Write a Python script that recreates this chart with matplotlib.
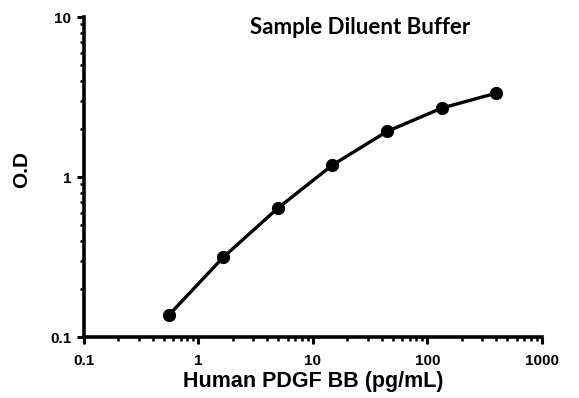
import matplotlib

matplotlib.use("Agg")

import matplotlib.pyplot as plt
from matplotlib.ticker import LogLocator, NullFormatter, FixedFormatter, FixedLocator

# standard curve, 3-fold dilutions
conc = [0.55, 1.65, 4.94, 14.8, 44.4, 133.3, 400.0]
od = [0.137, 0.316, 0.64, 1.19, 1.93, 2.70, 3.35]

x_ticks = [0.1, 1, 10, 100, 1000]
x_tick_labels = ["0.1", "1", "10", "100", "1000"]
y_ticks = [0.1, 1, 10]
y_tick_labels = ["0.1", "1", "10"]

title = "Sample Diluent Buffer"
x_label = "Human PDGF BB (pg/mL)"
y_label = "O.D"

plt.rcParams["font.family"] = ["Liberation Sans", "DejaVu Sans"]

fig = plt.figure(figsize=(5.79, 3.98), dpi=100)
ax = fig.add_axes([0.145, 0.153, 0.791, 0.804])

ax.plot(conc, od, color="black", linewidth=2.4, marker="o", markersize=8.5,
        solid_joinstyle="round", solid_capstyle="round", zorder=3, clip_on=False)

ax.set_xscale("log")
ax.set_yscale("log")
ax.set_xlim(0.1, 1000)
ax.set_ylim(0.1, 10)

ax.xaxis.set_major_locator(FixedLocator(x_ticks))
ax.xaxis.set_major_formatter(FixedFormatter(x_tick_labels))
ax.yaxis.set_major_locator(FixedLocator(y_ticks))
ax.yaxis.set_major_formatter(FixedFormatter(y_tick_labels))
ax.xaxis.set_minor_locator(LogLocator(base=10, subs=range(2, 10)))
ax.yaxis.set_minor_locator(LogLocator(base=10, subs=range(2, 10)))
ax.xaxis.set_minor_formatter(NullFormatter())
ax.yaxis.set_minor_formatter(NullFormatter())

for side in ["top", "right"]:
    ax.spines[side].set_visible(False)
for side in ["left", "bottom"]:
    ax.spines[side].set_linewidth(2.6)

ax.tick_params(which="major", direction="out", length=5, width=2.2, pad=4)
ax.tick_params(axis="x", which="major", pad=7)
ax.tick_params(which="minor", direction="out", length=3, width=1.8)
for lab in ax.get_xticklabels() + ax.get_yticklabels():
    lab.set_fontweight("bold")
    lab.set_fontsize(11)

ax.set_xlabel(x_label, fontsize=15.5, fontweight="bold", labelpad=2)
ax.set_ylabel(y_label, fontsize=15, fontweight="bold", labelpad=14)
ax.yaxis.set_label_coords(-0.115, 0.525)

fig.text(0.622, 0.93, title, ha="center", va="center", fontsize=16,
         fontweight="bold", family=["Lato", "DejaVu Sans"])

fig.savefig("out.png", dpi=100)
